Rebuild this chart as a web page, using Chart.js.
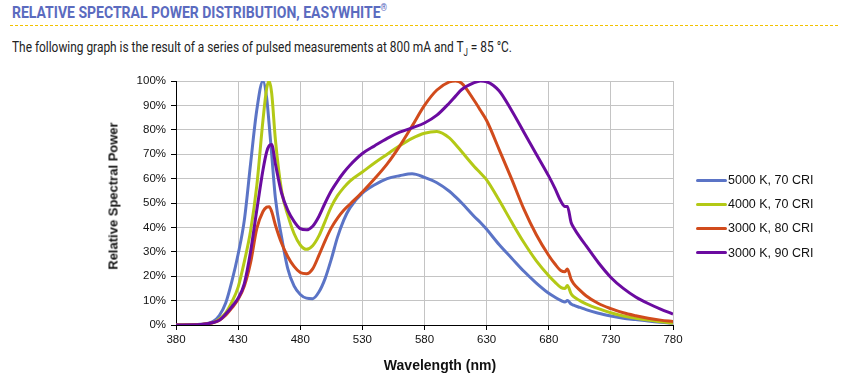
<!DOCTYPE html>
<html>
<head>
<meta charset="utf-8">
<script src="https://cdn.jsdelivr.net/npm/chart.js@4.4.1/dist/chart.umd.min.js"></script>
<style>
  body { margin: 0; background: #fff; width: 846px; height: 386px; position: relative; overflow: hidden; }
  #title { position: absolute; left: 12px; top: 2px; font: bold 17px Roboto, sans-serif; color: #5b6bbf; white-space: nowrap; transform-origin: 0 0; }
  #title sup { font-size: 10px; }
  #rule { position: absolute; left: 10px; right: 8px; top: 25px; border-top: 1px dashed #f2c200; }
  #subtitle { position: absolute; left: 12px; top: 38px; font: 15px Roboto, sans-serif; color: #222; white-space: nowrap; transform-origin: 0 0; }
  #subtitle sub { font-size: 10px; }
  #chartBox { position: absolute; left: 0; top: 0; }
  .axisTitle { position: absolute; font: bold 13px "Liberation Sans", Arial, sans-serif; color: #111; white-space: nowrap; }
  #yTitle { left: 113px; top: 196px; transform: translate(-50%, -50%) rotate(-90deg); }
  #xTitle { left: 440px; top: 365px; font-size: 14px; transform: translate(-50%, -50%); }
  #legend { position: absolute; left: 696px; top: 168px; margin: 0; padding: 0; list-style: none; font: 12.5px "Liberation Sans", Arial, sans-serif; color: #111; }
  #legend li { height: 24.2px; display: flex; align-items: center; }
</style>
</head>
<body>
<div id="title">RELATIVE SPECTRAL POWER DISTRIBUTION, EASYWHITE<sup>®</sup></div>
<div id="rule"></div>
<div id="subtitle">The following graph is the result of a series of pulsed measurements at 800 mA and T<sub>J</sub> = 85 °C.</div>
<div id="chartBox"><canvas id="spd_chart" width="846" height="386"></canvas></div>
<div class="axisTitle" id="yTitle">Relative Spectral Power</div>
<div class="axisTitle" id="xTitle">Wavelength (nm)</div>
<ul id="legend"></ul>
<script>
const wavelengths = [380, 400, 410, 415, 420, 425, 430, 435, 440, 445, 450, 453, 455, 457, 460, 465, 470, 475, 480, 485, 490, 495, 500, 505, 510, 515, 520, 530, 540, 550, 560, 570, 580, 590, 600, 605, 610, 620, 625, 630, 640, 650, 660, 670, 680, 685, 690, 693, 695, 698, 700, 705, 710, 720, 730, 740, 750, 760, 770, 780];

const cw5000k70 = [0, 0.3, 1.5, 4, 9, 18, 29, 43, 66, 88, 100, 93, 82, 70, 52, 36, 23, 16, 12.5, 11, 10.8, 13.5, 19, 27, 36, 43, 48, 54, 57.5, 60, 61.2, 62, 60.5, 58.3, 54.8, 52.5, 50, 44.5, 42, 39.2, 33, 27.5, 22, 17.2, 13, 11.4, 10, 9.4, 10, 8.6, 8.1, 7.2, 6.3, 4.8, 3.7, 2.8, 2.2, 1.6, 1.1, 0.7];

const nw4000k70 = [0, 0.2, 1, 2.5, 5, 9.5, 15.5, 26, 38.5, 57, 84, 97, 100, 95, 76, 55, 45, 37.5, 32.8, 31, 32.5, 36.5, 42.5, 48.5, 53, 56.3, 59, 62.7, 66.5, 70, 73.5, 76.5, 78.6, 79.3, 76.7, 74, 71, 65, 62.3, 59.5, 51.2, 42.3, 33.8, 26.3, 20.2, 17.6, 15.3, 15, 16.2, 12.8, 11.6, 10, 8.7, 6.7, 5, 3.7, 2.8, 2, 1.3, 0.8];

const ww3000k80 = [0, 0.2, 1, 2, 4, 7, 10.5, 16, 25.5, 39.5, 46.5, 48.3, 48.5, 46.5, 41, 33.5, 28, 24, 21.5, 21, 23, 28.5, 34.5, 39.8, 43.8, 47, 49.5, 54.5, 60, 66, 73.3, 81.5, 90, 96.3, 99.6, 100, 99, 92, 88, 83.8, 72, 60, 47.5, 37, 28.5, 25, 22.2, 21.8, 23, 18.7, 17, 14.3, 12, 8.8, 6.7, 5, 3.8, 2.8, 2, 1.4];

const ww3000k90 = [0, 0.2, 1, 2, 4.5, 7.5, 11, 17, 30, 47, 63.5, 71, 73.5, 74, 66, 54, 47, 42.5, 39.5, 39, 40.5, 44.5, 50, 55, 59, 62.5, 65.5, 70.3, 73.5, 76.5, 79, 80.8, 82.8, 86, 91, 93.8, 96.5, 99.3, 100, 99.7, 96, 88, 79, 70, 61, 56, 50.5, 48.6, 48.6, 42, 40, 36, 32.5, 25.5, 19.5, 15, 11.5, 8.8, 6.5, 4.5];

const seriesLabels = ['5000 K, 70 CRI', '4000 K, 70 CRI', '3000 K, 80 CRI', '3000 K, 90 CRI'];
const seriesValues = [cw5000k70, nw4000k70, ww3000k80, ww3000k90];
const seriesColors = ['#5b74c6', '#b3c916', '#d14b1c', '#6b0ba0'];

// title/subtitle use a condensed face in the original, squeeze to its width
function squeeze(id, target) {
  const el = document.getElementById(id);
  const w = el.getBoundingClientRect().width;
  el.style.transform = 'scaleX(' + (target / w) + ')';
}
squeeze('title', 375);
squeeze('subtitle', 500);

const tickFont = { family: '"Liberation Sans", Arial, sans-serif', size: 11.5 };

const ctx = document.getElementById('spd_chart').getContext('2d');
const spdChart = new Chart(ctx, {
  type: 'line',
  data: {
    datasets: seriesValues.map((vals, i) => ({
      label: seriesLabels[i],
      data: vals.map((v, j) => ({ x: wavelengths[j], y: v })),
      borderColor: seriesColors[i],
      backgroundColor: seriesColors[i],
      borderWidth: 3,
      pointRadius: 0,
      cubicInterpolationMode: 'monotone',
      order: 4 - i
    }))
  },
  options: {
    responsive: false,
    animation: false,
    layout: { padding: { left: 0, top: 81, right: 173, bottom: 0 } },
    plugins: { legend: { display: false }, tooltip: { enabled: false } },
    scales: {
      x: {
        type: 'linear',
        min: 380,
        max: 780,
        afterFit: s => { s.height = 61; },
        ticks: { stepSize: 50, font: tickFont, color: '#111', padding: 3, maxRotation: 0 },
        grid: { color: '#c4c4c4', tickColor: '#000', tickLength: 5 },
        border: { color: '#000' }
      },
      y: {
        min: 0,
        max: 100,
        afterFit: s => { s.width = 176; },
        ticks: { stepSize: 10, font: tickFont, color: '#111', padding: 5, callback: v => v + '%' },
        grid: { color: '#c4c4c4', tickColor: '#000', tickLength: 5 },
        border: { color: '#000' }
      }
    }
  }
});

const legendContainer = document.getElementById('legend');
legendContainer.innerHTML = seriesLabels.map((label, i) => `
  <li>
    <span style="display:inline-block;width:31px;height:3px;border-radius:1.5px;background:${seriesColors[i]};margin-right:1px;"></span>
    <span>${label}</span>
  </li>`).join('');
</script>
</body>
</html>
